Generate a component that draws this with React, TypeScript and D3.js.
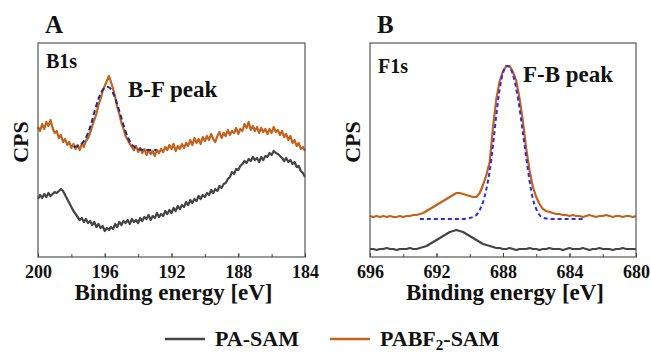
import React, { useEffect, useRef } from 'react';
import * as d3 from 'd3';

// ---- Panel A: B1s (200 -> 184 eV, 0.125 eV step) ----
const b1sStart = 200;
const b1sStep = 0.125;
const b1sPABF2 = [
  130, 126, 133, 128, 135, 131, 137, 129, 124, 126,
  119, 122, 115, 118, 112, 115, 109, 113, 108, 112,
  107, 113, 110, 116, 119, 124, 131, 137, 143, 152,
  158, 166, 171, 176, 181, 175, 168, 160, 150, 143,
  134, 128, 121, 117, 113, 110, 107, 111, 105, 109,
  104, 108, 102, 107, 103, 106, 101, 107, 104, 108,
  105, 110, 107, 112, 108, 113, 106, 111, 108, 113,
  109, 114, 111, 117, 112, 119, 114, 118, 113, 120,
  116, 121, 117, 123, 118, 115, 121, 125, 119, 124,
  121, 127, 122, 126, 124, 129, 123, 128, 126, 133,
  129, 135, 127, 131, 126, 130, 124, 129, 125, 128,
  123, 128, 124, 130, 125, 127, 122, 126, 120, 123,
  117, 121, 114, 117, 111, 114, 108, 110, 106,
];
const b1sPA = [
  58, 62, 59, 63, 60, 64, 61, 63, 65, 64,
  66, 68, 66, 62, 58, 54, 50, 46, 43, 40,
  37, 39, 35, 38, 34, 36, 32, 35, 30, 33,
  29, 31, 26, 29, 27, 30, 28, 33, 30, 35,
  32, 36, 34, 37, 33, 38, 35, 37, 34, 39,
  36, 40, 38, 42, 37, 41, 39, 44, 40, 43,
  41, 46, 43, 47, 44, 49, 46, 51, 48, 52,
  50, 55, 52, 57, 54, 58, 56, 61, 58, 62,
  60, 64, 62, 67, 64, 68, 66, 71, 69, 73,
  74, 78, 80, 85, 83, 88, 87, 91, 93, 96,
  94, 98, 96, 100, 97, 99, 95, 100, 97, 101,
  100, 104, 102, 106, 104, 103, 101, 99, 96, 99,
  95, 97, 93, 95, 90, 91, 86, 84, 80,
];
const b1sFitE = [197.85, 197.6, 197.4, 197.2, 197.0, 196.8, 196.6, 196.4, 196.2, 196.0, 195.8, 195.6, 195.4, 195.2, 195.0, 194.8, 194.6, 194.4, 194.2, 194.0, 193.6, 193.2, 192.9];
const b1sFit = [110, 111, 113, 117, 124, 134, 146, 157, 165, 169, 170, 167, 160, 150, 139, 128, 119, 113, 110, 108, 107, 107, 107];

// ---- Panel B: F1s (696 -> 680 eV, 0.2 eV step) ----
const f1sStart = 696;
const f1sStep = 0.2;
const f1sPABF2 = [
  41, 40, 41, 40, 41, 40, 41, 40, 40, 41,
  40, 41, 41, 42, 42, 43, 44, 46, 48, 50,
  52, 54, 56, 58, 60, 62, 64, 64, 63, 62,
  61, 60, 60, 64, 72, 82, 95, 130, 158, 176,
  186, 191, 191, 185, 176, 158, 135, 108, 86, 70,
  60, 53, 48, 46, 45, 44, 43, 43, 42, 42,
  41, 42, 41, 41, 40, 41, 42, 41, 40, 41,
  41, 42, 41, 40, 41, 41, 40, 41, 41, 40,
  41,
];
const f1sPA = [
  8, 8, 7, 8, 8, 9, 8, 8, 7, 8,
  8, 8, 9, 8, 8, 9, 10, 11, 13, 15,
  17, 19, 21, 23, 25, 26, 27, 26, 25, 23,
  21, 19, 17, 15, 13, 12, 11, 10, 9, 9,
  8, 8, 9, 8, 7, 8, 8, 8, 9, 8,
  8, 7, 8, 8, 9, 8, 8, 8, 7, 8,
  9, 8, 8, 8, 9, 8, 7, 8, 8, 9,
  8, 8, 8, 7, 8, 8, 9, 8, 8, 8,
  8,
];
const f1sFitE = [693.0, 692.0, 691.0, 690.4, 690.0, 689.8, 689.6, 689.4, 689.2, 689.0, 688.8, 688.6, 688.4, 688.2, 688.0, 687.8, 687.6, 687.4, 687.2, 687.0, 686.8, 686.6, 686.4, 686.2, 686.0, 685.8, 685.6, 685.4, 685.0, 684.0, 683.2];
const f1sFit = [38, 38, 38, 38, 39, 40, 42, 47, 55, 68, 86, 112, 142, 168, 184, 191, 190, 182, 168, 148, 124, 99, 76, 58, 48, 42, 39.5, 38.5, 38, 38, 38];

const xTicksA = [200, 196, 192, 188, 184];
const xTicksB = [696, 692, 688, 684, 680];

const orange = '#c4621b';
const gray = '#444444';
const font = 'Liberation Serif, Tinos, DejaVu Serif, serif';

type Pt = [number, number];

const toPoints = (start: number, step: number, vals: number[]): Pt[] =>
  vals.map((v, i) => [start - i * step, v]);

const zip = (xs: number[], ys: number[]): Pt[] => xs.map((x, i) => [x, ys[i]]);

export default function App() {
  const ref = useRef<SVGSVGElement>(null);

  useEffect(() => {
    if (!ref.current) return;
    const svg = d3.select(ref.current);
    svg.selectAll('*').remove();

    const top = 43;
    const bottom = 257;
    const y = d3.scaleLinear().domain([0, 214]).range([bottom, top]);

    const label = (sel: d3.Selection<SVGTextElement, unknown, null, undefined>, size: number) =>
      sel.attr('font-family', font).attr('font-size', size).attr('font-weight', 'bold').attr('fill', '#111');

    const drawPanel = (opts: {
      left: number; right: number; domain: [number, number]; ticks: number[];
      letter: string; core: string; coreY: number; peak: string; peakX: number; peakY: number;
      pa: Pt[]; pabf: Pt[]; fit: Pt[]; fitColor: string; fitDash: string;
    }) => {
      const x = d3.scaleLinear().domain(opts.domain).range([opts.left, opts.right]);
      const g = svg.append('g');

      const line = d3.line<Pt>().x(d => x(d[0])).y(d => y(d[1]));

      g.append('path').datum(opts.pa)
        .attr('fill', 'none').attr('stroke', gray).attr('stroke-width', 2.2)
        .attr('stroke-linejoin', 'round').attr('d', line);
      g.append('path').datum(opts.pabf)
        .attr('fill', 'none').attr('stroke', orange).attr('stroke-width', 2.2)
        .attr('stroke-linejoin', 'round').attr('d', line);
      g.append('path').datum(opts.fit)
        .attr('fill', 'none').attr('stroke', opts.fitColor).attr('stroke-width', 2)
        .attr('stroke-dasharray', opts.fitDash).attr('d', line.curve(d3.curveMonotoneX));

      // frame
      g.append('rect')
        .attr('x', opts.left).attr('y', top)
        .attr('width', opts.right - opts.left).attr('height', bottom - top)
        .attr('fill', 'none').attr('stroke', '#555').attr('stroke-width', 1.2);

      // minor ticks every 2 eV
      const minor = d3.range(0, 9).map(i => opts.domain[0] - i * 2);
      g.append('g')
        .attr('transform', `translate(0,${bottom})`)
        .call(d3.axisBottom(x).tickValues(minor).tickSize(-3).tickFormat(() => ''))
        .call(a => a.select('.domain').remove())
        .call(a => a.selectAll('line').attr('stroke', '#444'));

      // major ticks + labels
      g.append('g')
        .attr('transform', `translate(0,${bottom})`)
        .call(d3.axisBottom(x).tickValues(opts.ticks).tickSize(-4).tickPadding(8).tickFormat(d3.format('d')))
        .call(a => a.select('.domain').remove())
        .call(a => a.selectAll('line').attr('stroke', '#444'))
        .call(a => a.selectAll('text')
          .attr('fill', '#111').attr('font-family', font)
          .attr('font-size', 18).attr('font-weight', 'bold'));

      const cx = (opts.left + opts.right) / 2;
      label(g.append('text'), 23)
        .attr('x', cx + 2).attr('y', 300).attr('text-anchor', 'middle')
        .text('Binding energy [eV]');

      label(g.append('text'), 22)
        .attr('transform', `translate(${opts.left - 10},142) rotate(-90)`)
        .attr('text-anchor', 'middle')
        .text('CPS');

      label(g.append('text'), 25)
        .attr('x', opts.left + 7).attr('y', 33)
        .text(opts.letter);

      label(g.append('text'), 20)
        .attr('x', opts.left + 8).attr('y', opts.coreY)
        .text(opts.core);

      label(g.append('text'), 23)
        .attr('x', opts.peakX).attr('y', opts.peakY)
        .text(opts.peak);
    };

    drawPanel({
      left: 38, right: 305, domain: [200, 184], ticks: xTicksA,
      letter: 'A', core: 'B1s', coreY: 68, peak: 'B-F peak', peakX: 128, peakY: 97,
      pa: toPoints(b1sStart, b1sStep, b1sPA),
      pabf: toPoints(b1sStart, b1sStep, b1sPABF2),
      fit: zip(b1sFitE, b1sFit), fitColor: '#1c2a8a', fitDash: '5,3',
    });

    drawPanel({
      left: 370, right: 636, domain: [696, 680], ticks: xTicksB,
      letter: 'B', core: 'F1s', coreY: 73, peak: 'F-B peak', peakX: 523, peakY: 82,
      pa: toPoints(f1sStart, f1sStep, f1sPA),
      pabf: toPoints(f1sStart, f1sStep, f1sPABF2),
      fit: zip(f1sFitE, f1sFit), fitColor: '#2b2bf0', fitDash: '4,3',
    });

    // Legend
    const legend = svg.append('g');
    const items = [
      { label: 'PA-SAM', color: gray, x: 165 },
      { label: 'PABF', sub: '2', rest: '-SAM', color: orange, x: 330 },
    ];
    items.forEach(it => {
      legend.append('line')
        .attr('x1', it.x).attr('x2', it.x + 40).attr('y1', 339).attr('y2', 339)
        .attr('stroke', it.color).attr('stroke-width', 2.5);
      const t = label(legend.append('text'), 22)
        .attr('x', it.x + 50).attr('y', 346);
      t.append('tspan').text(it.label);
      if (it.sub) {
        t.append('tspan').attr('dy', 4).attr('font-size', 15).text(it.sub);
        t.append('tspan').attr('dy', -4).text(it.rest!);
      }
    });
  }, []);

  return (
    <div>
      <style>{`body{margin:0;background:#fff}`}</style>
      <svg ref={ref} width={651} height={353} style={{ display: 'block' }}></svg>
    </div>
  );
}
